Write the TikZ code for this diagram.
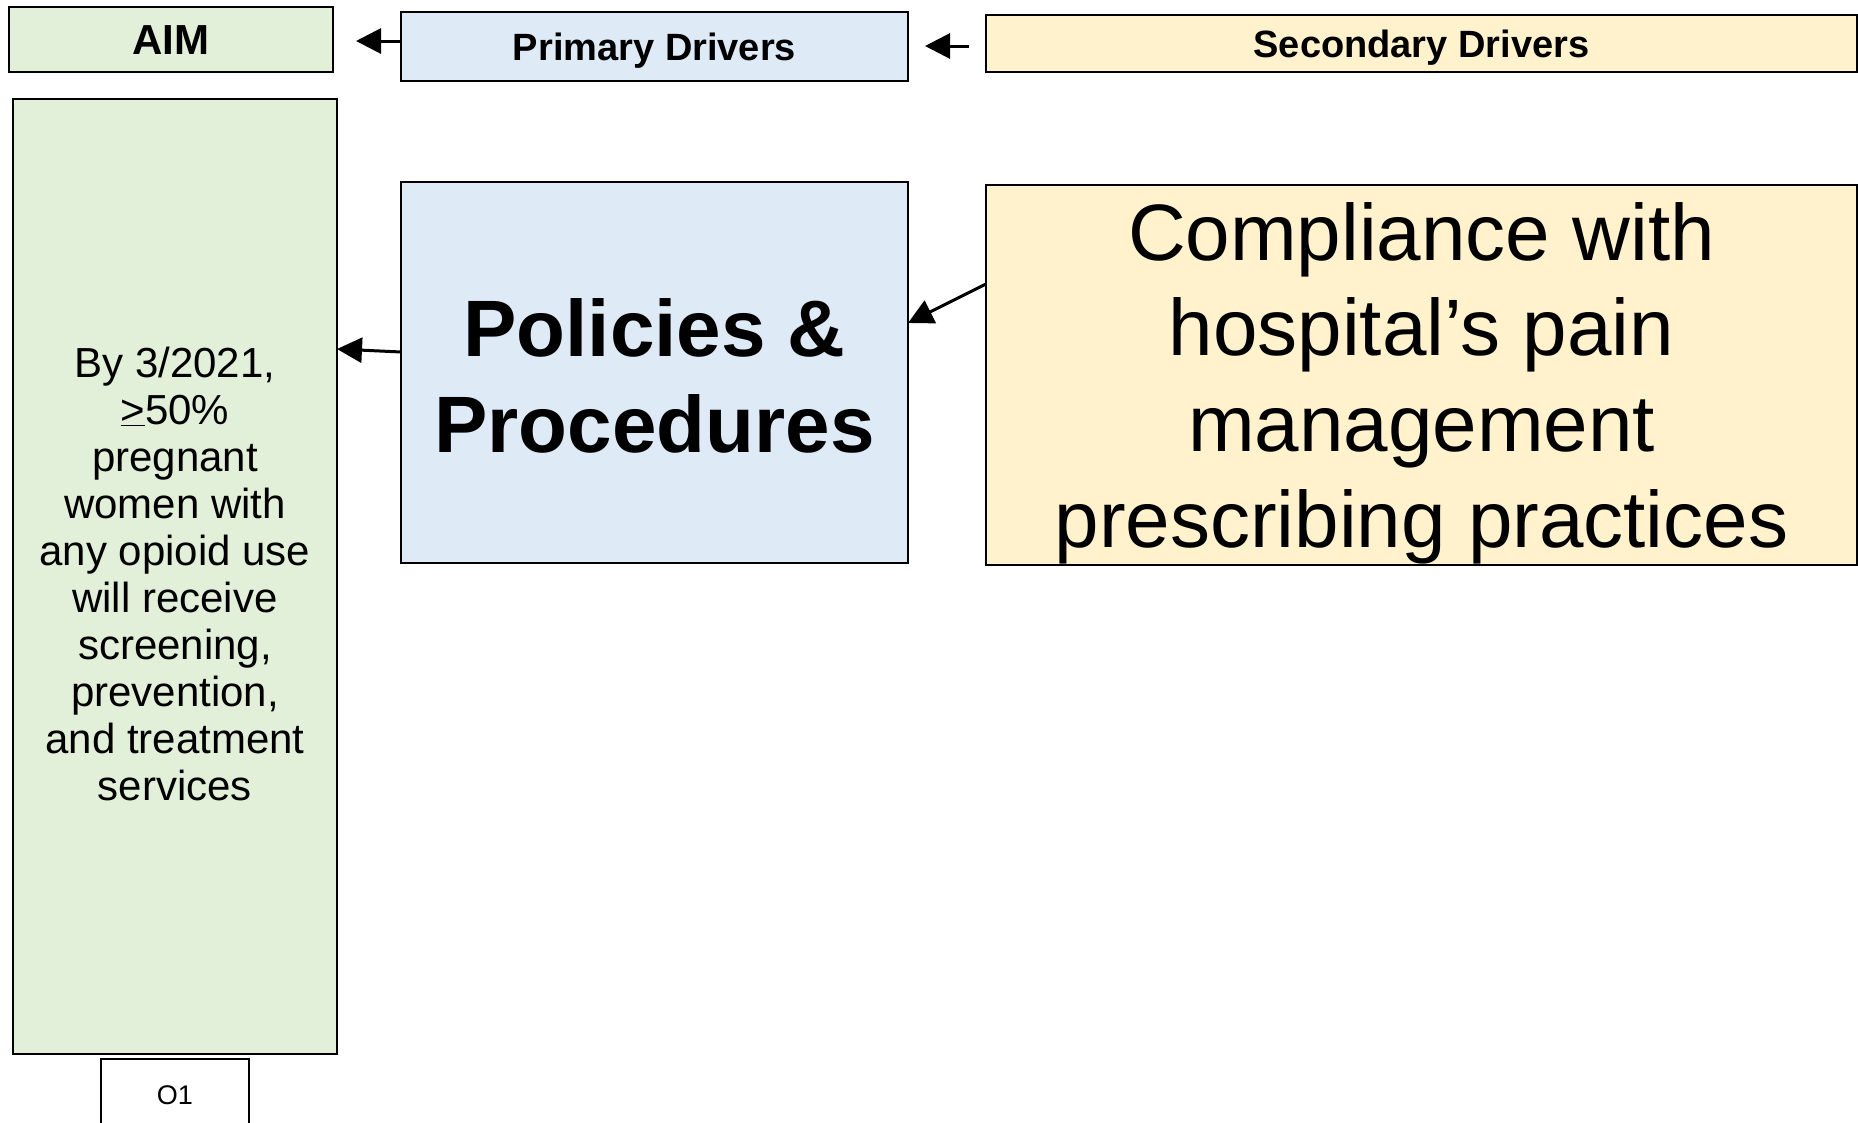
\documentclass[tikz,border=0pt]{standalone}
\usepackage{fontspec}
\setmainfont{Liberation Sans}
\usetikzlibrary{arrows.meta}
\definecolor{aimgreen}{HTML}{E2EFD9}
\definecolor{drvblue}{HTML}{DEEAF6}
\definecolor{secyellow}{HTML}{FFF2CC}
\begin{document}
\begin{tikzpicture}[x=1pt,y=-1pt,
  box/.style={draw=black, line width=2pt, inner sep=0pt, outer sep=0pt},
  txt/.style={inner sep=0pt, outer sep=0pt, align=center},
  arr/.style={line width=3pt, -{Triangle[length=25pt,width=25pt]}}]
\useasboundingbox (0,0) rectangle (1858,1122);
% header boxes
\node[box, fill=aimgreen, minimum width=324pt, minimum height=65pt] (aimh) at (171,39.5) {};
\node[box, fill=drvblue, minimum width=507pt, minimum height=69pt] (prih) at (654.5,46.5) {};
\node[box, fill=secyellow, minimum width=871pt, minimum height=57pt] (sech) at (1421.5,43.5) {};
% main boxes
\node[box, fill=aimgreen, minimum width=324pt, minimum height=955pt] (aim) at (175,576.5) {};
\node[box, fill=drvblue, minimum width=507pt, minimum height=381pt] (pol) at (654.5,372.5) {};
\node[box, fill=secyellow, minimum width=871pt, minimum height=380pt] (comp) at (1421.5,375) {};
\node[box, fill=white, line width=1.5pt, minimum width=148pt, minimum height=90pt] (o1) at (175,1104) {};
% header texts
\node[txt, anchor=base, font=\fontsize{42}{48}\selectfont\bfseries] (aimt) at (171,54) {AIM};
\node[txt, anchor=base, font=\fontsize{38}{44}\selectfont\bfseries] (prit) at (654.5,60) {Primary Drivers};
\node[txt, anchor=base, font=\fontsize{38}{44}\selectfont\bfseries] (sect) at (1421.5,57) {Secondary Drivers};
% main texts
\node[txt, font=\fontsize{42}{47}\selectfont] (aimtxt) at (175,573.5)
  {By 3/2021,\\\underline{>}50\%\\pregnant\\women with\\any opioid use\\will receive\\screening,\\prevention,\\and treatment\\services};
\node[txt, font=\fontsize{80}{96}\selectfont\bfseries] (poltxt) at (654.5,375.5)
  {Policies \&\\Procedures};
\node[txt, font=\fontsize{80}{95.7}\selectfont] (comptxt) at (1421.5,383)
  {Compliance with\\hospital’s pain\\management\\prescribing practices};
\node[txt, anchor=base, font=\fontsize{27}{32}\selectfont] (o1t) at (175,1104) {O1};
% connectors
\coordinate (t1) at (356,41);
\coordinate (t2a) at (969,46);
\coordinate (t2b) at (925,46);
\draw[arr] (prih.west |- t1) -- (t1);
\draw[arr] (t2a) -- (t2b);
\draw[arr] (pol.west |- 0,352) -- (aim.east |- 0,349);
\draw[arr] (comp.west |- 0,284) -- (pol.east |- 0,323);
\end{tikzpicture}
\end{document}
